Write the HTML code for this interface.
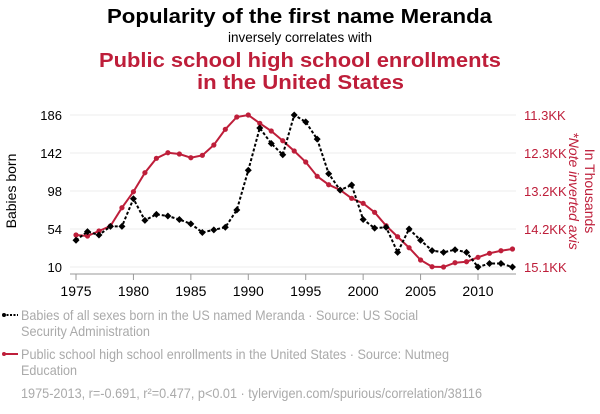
<!DOCTYPE html>
<html><head><meta charset="utf-8"><style>
body{margin:0;background:#fff}
svg{display:block;font-family:"Liberation Sans",sans-serif}
</style></head><body>
<svg width="600" height="414" viewBox="0 0 600 414">
<text x="107" y="23" textLength="385" lengthAdjust="spacingAndGlyphs" font-size="20" font-weight="bold" fill="#000">Popularity of the first name Meranda</text>
<text x="300" y="42" text-anchor="middle" font-size="13.5" fill="#000">inversely correlates with</text>
<text x="99" y="67" textLength="402" lengthAdjust="spacingAndGlyphs" font-size="20" font-weight="bold" fill="#be1e3a">Public school high school enrollments</text>
<text x="197" y="89" textLength="207" lengthAdjust="spacingAndGlyphs" font-size="20" font-weight="bold" fill="#be1e3a">in the United States</text>
<g id="grid"></g>
<g id="axes"></g>
<text transform="translate(16,191) rotate(-90)" text-anchor="middle" font-size="14" fill="#000">Babies born</text>
<text transform="translate(585,191) rotate(90)" text-anchor="middle" font-size="14" fill="#be1e3a">In Thousands</text>
<text transform="translate(569,191) rotate(90)" text-anchor="middle" font-size="14" font-style="italic" fill="#be1e3a">*Note inverted axis</text>
<g id="series"></g>
<g font-size="14" fill="#aaa">
<line x1="3" y1="315" x2="18" y2="315" stroke="#000" stroke-width="2" stroke-dasharray="2,1.5"/>
<circle cx="4" cy="315" r="2" fill="#000"/>
<text x="21" y="320" textLength="397" lengthAdjust="spacingAndGlyphs">Babies of all sexes born in the US named Meranda · Source: US Social</text>
<text x="21" y="336" textLength="129" lengthAdjust="spacingAndGlyphs">Security Administration</text>
<line x1="3" y1="354" x2="18" y2="354" stroke="#be1e3a" stroke-width="2"/>
<circle cx="4" cy="354" r="2" fill="#be1e3a"/>
<text x="21" y="359" textLength="428" lengthAdjust="spacingAndGlyphs">Public school high school enrollments in the United States · Source: Nutmeg</text>
<text x="21" y="375" textLength="56" lengthAdjust="spacingAndGlyphs">Education</text>
<text x="21" y="398" textLength="461" lengthAdjust="spacingAndGlyphs">1975-2013, r=-0.691, r²=0.477, p&lt;0.01 · tylervigen.com/spurious/correlation/38116</text>
</g>
</svg>
<script>
const years=[1975,1976,1977,1978,1979,1980,1981,1982,1983,1984,1985,1986,1987,1988,1989,1990,1991,1992,1993,1994,1995,1996,1997,1998,1999,2000,2001,2002,2003,2004,2005,2006,2007,2008,2009,2010,2011,2012,2013];
const babies=[41,51,47,57,57,89,64,71,69,65,60,50,53,56,76,122,171,153,140,186,178,158,118,99,105,65,55,56,27,54,41,29,27,30,27,10,14,14,10];
const enroll=[14300,14325,14200,14075,13618,13218,12743,12383,12243,12275,12368,12308,12050,11658,11350,11300,11508,11700,11943,12200,12475,12833,13043,13175,13383,13508,13733,14068,14343,14618,14925,15093,15100,14993,14968,14858,14758,14693,14650];
const xTicks=[1975,1980,1985,1990,1995,2000,2005,2010];
const leftTicks=[10,54,98,142,186];
const rightTicks=[11300,12250,13200,14150,15100];
const rightLabels=["11.3KK","12.3KK","13.2KK","14.2KK","15.1KK"];
const NS="http://www.w3.org/2000/svg";
function x(yr){return 76+(yr-1975)*(402/35);}
function yL(v){return 267-(v-10)*(152/176);}
function yR(v){return 115+(v-11300)*(152/3800);}
function mk(tag,attrs,parent){const e=document.createElementNS(NS,tag);for(const k in attrs)e.setAttribute(k,attrs[k]);parent.appendChild(e);return e;}
const grid=document.getElementById('grid'),axes=document.getElementById('axes'),ser=document.getElementById('series');
leftTicks.forEach((t,i)=>{
 const gl=mk('line',{x1:70,x2:516,y1:yL(t),y2:yL(t),stroke:'#eee','stroke-width':1},grid);
 
 
 const tl=mk('text',{x:62,y:yL(t)+5,'text-anchor':'end','font-size':13,fill:'#000'},axes);
 tl.textContent=t;
 
 
});
rightTicks.forEach((t,i)=>{
 const tl=mk('text',{x:524,y:yR(t)+5,'font-size':13,fill:'#be1e3a'},axes);
 tl.textContent=rightLabels[i];
 
 
});
const ax=mk('line',{x1:70,x2:516,y1:274,y2:274,stroke:'#999','stroke-width':1},axes);


xTicks.forEach(t=>{
 const tk=mk('line',{x1:x(t),x2:x(t),y1:274,y2:280,stroke:'#999','stroke-width':1},axes);
 
 
 const tl=mk('text',{x:x(t),y:296,'text-anchor':'middle','font-size':14,fill:'#000'},axes);
 tl.textContent=t;
 
 
});
const rl=mk('polyline',{points:years.map((yr,i)=>x(yr)+','+yR(enroll[i])).join(' '),fill:'none',stroke:'#be1e3a','stroke-width':2},ser);


years.forEach((yr,i)=>{
 const c=mk('circle',{cx:x(yr),cy:yR(enroll[i]),r:2.6,fill:'#be1e3a'},ser);
 
 
});
const bl=mk('polyline',{points:years.map((yr,i)=>x(yr)+','+yL(babies[i])).join(' '),fill:'none',stroke:'#000','stroke-width':2,'stroke-dasharray':'3,2'},ser);


years.forEach((yr,i)=>{
 const cx=x(yr),cy=yL(babies[i]);
 const d=mk('polygon',{points:`${cx},${cy-3.5} ${cx+3.5},${cy} ${cx},${cy+3.5} ${cx-3.5},${cy}`,fill:'#000'},ser);
 
 
});
</script>
</body></html>
